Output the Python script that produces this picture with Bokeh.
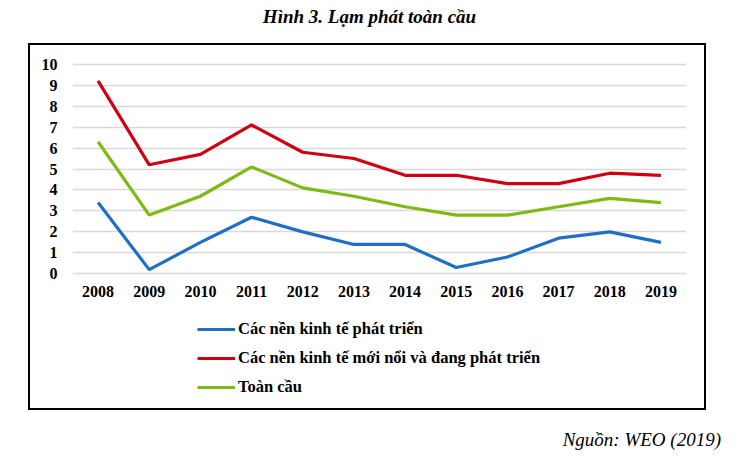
from bokeh.plotting import figure
from bokeh.models import (FactorRange, Range1d, Legend, LegendItem, FixedTicker, Div, Spacer)
from bokeh.layouts import column, row
from bokeh.embed import file_html
from bokeh.resources import INLINE

years = ["2008", "2009", "2010", "2011", "2012", "2013", "2014", "2015",
         "2016", "2017", "2018", "2019"]
developed = [3.4, 0.2, 1.5, 2.7, 2.0, 1.4, 1.4, 0.3, 0.8, 1.7, 2.0, 1.5]
emerging = [9.2, 5.2, 5.7, 7.1, 5.8, 5.5, 4.7, 4.7, 4.3, 4.3, 4.8, 4.7]
world = [6.3, 2.8, 3.7, 5.1, 4.1, 3.7, 3.2, 2.8, 2.8, 3.2, 3.6, 3.4]
series_names = ["Các nền kinh tế phát triển",
                "Các nền kinh tế mới nổi và đang phát triển",
                "Toàn cầu"]
y_ticks = list(range(0, 11))
title_text = "Hình 3. Lạm phát toàn cầu"
source_text = "Nguồn: WEO (2019)"

FONT = "Liberation Serif"
colors = ["#1f6fc5", "#d00012", "#7dbb14"]
series = [developed, emerging, world]
INNER_W = 674
H1, H2 = 260, 103
BORDER = 2

# ---- main chart ----
p = figure(width=INNER_W, height=H1, x_range=FactorRange(*years),
           y_range=Range1d(-0.08, 10.08),
           output_backend="svg", toolbar_location=None,
           min_border_left=42, min_border_right=18,
           min_border_top=17, min_border_bottom=30, margin=0)
p.outline_line_color = None
p.background_fill_color = "white"
p.border_fill_color = "white"

for vals, c in zip(series, colors):
    p.line(years, vals, line_color=c, line_width=3.2)

p.yaxis.ticker = FixedTicker(ticks=y_ticks)
for ax in (p.xaxis[0], p.yaxis[0]):
    ax.axis_line_color = None
    ax.major_tick_line_color = None
    ax.minor_tick_line_color = None
    ax.major_tick_out = 0
    ax.major_tick_in = 0
    ax.minor_tick_out = 0
    ax.minor_tick_in = 0
    ax.major_label_text_font = FONT
    ax.major_label_text_font_style = "bold"
    ax.major_label_text_font_size = "16px"
    ax.major_label_text_color = "black"
p.yaxis.major_label_standoff = 15
p.xaxis.major_label_standoff = 10
p.xgrid.grid_line_color = None
p.ygrid.grid_line_color = "#d9d9d9"
p.ygrid.grid_line_width = 1.5

# ---- legend panel (same series, kept out of view; only the legend shows) ----
pl = figure(width=INNER_W, height=H2, x_range=FactorRange(*years),
            y_range=Range1d(100, 101),
            output_backend="svg", toolbar_location=None,
            x_axis_location=None, y_axis_location=None,
            min_border=0, margin=0)
pl.outline_line_color = None
pl.xgrid.grid_line_color = None
pl.ygrid.grid_line_color = None
pl.background_fill_color = "white"
pl.border_fill_color = "white"
leg_renderers = [pl.line(years, vals, line_color=c, line_width=3.2)
                 for vals, c in zip(series, colors)]
items = [LegendItem(label=n, renderers=[r]) for n, r in zip(series_names, leg_renderers)]
legend = Legend(items=items, location=(125, 11.5),
                orientation="vertical", glyph_width=38, glyph_height=20,
                label_height=20, spacing=9, padding=0, margin=0,
                label_standoff=3, background_fill_alpha=0,
                border_line_color=None,
                label_text_font=FONT, label_text_font_style="bold",
                label_text_font_size="16.5px", label_text_color="black")
pl.add_layout(legend, "center")

# ---- frame box built from strips ----
def strip(w, h):
    return Div(text="", width=w, height=h, margin=0,
               styles={"background-color": "black"})

BOX_H = H1 + H2 + 2 * BORDER
inner = column(strip(INNER_W, BORDER), p, pl, strip(INNER_W, BORDER), spacing=0, margin=0)
box_row = row(Spacer(width=28, height=BOX_H, margin=0), strip(BORDER, BOX_H), inner,
              strip(BORDER, BOX_H), spacing=0, margin=0)

title_div = Div(text=title_text, width=739, height=43, margin=0,
                styles={"text-align": "center", "font-family": FONT,
                        "font-size": "19px", "font-weight": "bold",
                        "font-style": "italic", "line-height": "34px",
                        "color": "black", "width": "739px"})
source_div = Div(text=source_text, width=739, height=49, margin=0,
                 styles={"text-align": "right", "font-family": FONT,
                         "font-size": "19px", "font-style": "italic",
                         "line-height": "20px", "padding-top": "20px",
                         "padding-right": "18px", "box-sizing": "border-box",
                         "color": "black", "width": "739px"})

layout = column(title_div, box_row, source_div, spacing=0, margin=0)
open("out.html", "w").write(file_html(layout, INLINE))
